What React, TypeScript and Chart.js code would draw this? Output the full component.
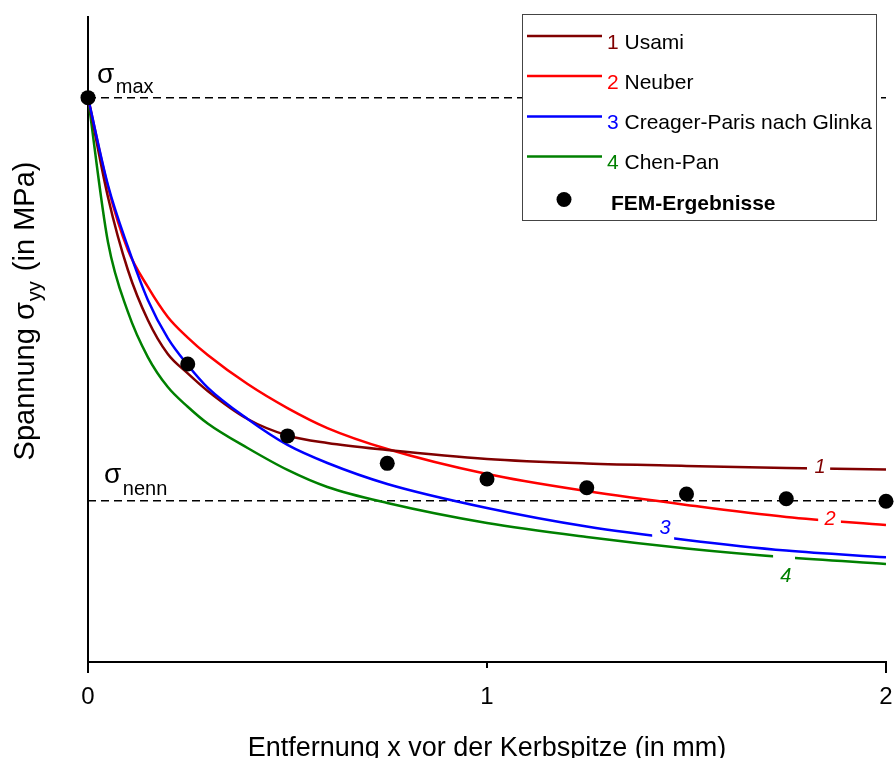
import React, { useEffect, useRef } from "react";
import { Chart, registerables } from "chart.js";

Chart.register(...registerables);

const FONT = '"Liberation Sans", Arial, sans-serif';

// ---- data (stress values in arbitrary MPa units, sigma_nenn = 100) ----
const xValues = [0, 0.05, 0.1, 0.15, 0.2, 0.25, 0.3, 0.4, 0.5, 0.6, 0.75, 1.0, 1.25, 1.5, 1.75, 2.0];
const usami = [350, 288.4, 243.1, 212.1, 191.0, 179.0, 168.1, 150.7, 140.5, 135.8, 131.5, 125.9, 123.1, 121.6, 120.3, 119.4];
const neuber = [350, 294.6, 255.5, 232.6, 214.0, 201.2, 190.4, 172.4, 157.5, 145.1, 132.1, 116.6, 106.0, 97.4, 89.9, 85.0];
const creagerParis = [350, 295.8, 257.4, 224.5, 200.9, 184.2, 170.2, 150.7, 134.6, 123.4, 110.4, 95.5, 84.0, 75.7, 69.1, 64.9];
const chenPan = [350, 260.5, 217.1, 189.1, 170.5, 158.3, 147.9, 132.7, 119.1, 108.5, 98.6, 86.2, 77.5, 70.4, 64.9, 60.8];

const femX = [0, 0.25, 0.5, 0.75, 1.0, 1.25, 1.5, 1.75, 2.0];
const femY = [350, 184.8, 140.2, 123.2, 113.5, 108.1, 104.2, 101.2, 99.7];

const sigmaMax = 350;
const sigmaNenn = 100;

const xTicks = [0, 1, 2];
const xTickLabels = ["0", "1", "2"];

const seriesNumbers = ["1", "2", "3", "4"];
const seriesNames = ["Usami", "Neuber", "Creager-Paris nach Glinka", "Chen-Pan"];
const femName = "FEM-Ergebnisse";
const xTitle = "Entfernung x vor der Kerbspitze (in mm)";
const yTitleMain = "Spannung σ";
const yTitleSub = "yy";
const yTitleEnd = " (in MPa)";

// curve number annotations (data coords) and gaps in the curves around them
const curveLabelX = [1.835, 1.86, 1.446, 1.749];
const curveLabelY = [120.9, 88.7, 83.1, 53.3];
const gapStart = [1.802, 1.83, 1.414, 1.717];
const gapEnd = [1.86, 1.887, 1.469, 1.772];

const seriesColors = ["#800000", "#ff0000", "#0000ff", "#008000"];
const seriesValues = [usami, neuber, creagerParis, chenPan];
const seriesOrder = [2, 3, 1, 4];

const decorPlugin = {
  id: "decor",
  beforeDatasetDraw(chart: any, args: any) {
    const ds = chart.data.datasets[args.index];
    const gi = ds.gapIndex;
    if (gi === undefined) return;
    const xs = chart.scales.x;
    const x1 = xs.getPixelForValue(gapStart[gi]);
    const x2 = xs.getPixelForValue(gapEnd[gi]);
    const ctx = chart.ctx;
    ctx.save();
    ctx.beginPath();
    ctx.rect(0, 0, chart.width, chart.height);
    ctx.rect(x1, 0, x2 - x1, chart.height);
    ctx.clip("evenodd");
  },
  afterDatasetDraw(chart: any, args: any) {
    const ds = chart.data.datasets[args.index];
    if (ds.gapIndex === undefined) return;
    chart.ctx.restore();
  },
  afterDraw(chart: any) {
    const ctx = chart.ctx;
    const xs = chart.scales.x;
    const ys = chart.scales.y;
    const area = chart.chartArea;
    ctx.save();

    // curve number labels
    ctx.font = `italic 20px ${FONT}`;
    ctx.textAlign = "center";
    ctx.textBaseline = "middle";
    for (let i = 0; i < 4; i++) {
      ctx.fillStyle = seriesColors[i];
      ctx.fillText(seriesNumbers[i], xs.getPixelForValue(curveLabelX[i]), ys.getPixelForValue(curveLabelY[i]));
    }

    // tick marks
    ctx.strokeStyle = "#000";
    ctx.lineWidth = 2;
    xTicks.forEach((v, i) => {
      const px = Math.round(xs.getPixelForValue(v));
      const len = i === 1 ? 6 : 11;
      ctx.beginPath();
      ctx.moveTo(px, area.bottom);
      ctx.lineTo(px, area.bottom + len);
      ctx.stroke();
    });

    // tick labels
    ctx.fillStyle = "#000";
    ctx.font = `24px ${FONT}`;
    ctx.textAlign = "center";
    ctx.textBaseline = "alphabetic";
    xTicks.forEach((v, i) => {
      ctx.fillText(xTickLabels[i], xs.getPixelForValue(v), area.bottom + 42);
    });

    // x title
    ctx.font = `27px ${FONT}`;
    ctx.fillText(xTitle, (area.left + area.right) / 2, 756);

    // y title with subscript
    ctx.save();
    ctx.translate(34, 311);
    ctx.rotate(-Math.PI / 2);
    ctx.textAlign = "left";
    const fMain = `29px ${FONT}`;
    const fSub = `20px ${FONT}`;
    ctx.font = fMain;
    const w1 = ctx.measureText(yTitleMain).width;
    const w3 = ctx.measureText(yTitleEnd).width;
    ctx.font = fSub;
    const w2 = ctx.measureText(yTitleSub).width;
    const x0 = -(w1 + w2 + w3 + 3) / 2;
    ctx.font = fMain;
    ctx.fillText(yTitleMain, x0, 0);
    ctx.font = fSub;
    ctx.fillText(yTitleSub, x0 + w1 + 1, 7);
    ctx.font = fMain;
    ctx.fillText(yTitleEnd, x0 + w1 + w2 + 3, 0);
    ctx.restore();

    // sigma labels
    const drawSigma = (x: number, yBase: number, sub: string, subDy: number) => {
      ctx.textAlign = "left";
      ctx.font = `28px ${FONT}`;
      ctx.fillStyle = "#000";
      ctx.fillText("σ", x, yBase);
      const w = ctx.measureText("σ").width;
      ctx.font = `20px ${FONT}`;
      ctx.fillText(sub, x + w + 1.5, yBase + subDy);
    };
    drawSigma(area.left + 9, ys.getPixelForValue(sigmaMax) - 15, "max", 10);
    drawSigma(area.left + 16, ys.getPixelForValue(sigmaNenn) - 18, "nenn", 12);

    // legend
    const lx = 522.5, ly = 14.5, lw = 354, lh = 206;
    ctx.fillStyle = "#fff";
    ctx.fillRect(lx, ly, lw, lh);
    ctx.strokeStyle = "#444";
    ctx.lineWidth = 1;
    ctx.strokeRect(lx, ly, lw, lh);
    const baselines = [48.5, 88.5, 129, 169, 209.5];
    for (let i = 0; i < 4; i++) {
      const b = baselines[i];
      ctx.strokeStyle = seriesColors[i];
      ctx.lineWidth = 2.5;
      ctx.beginPath();
      ctx.moveTo(527, b - 12.5);
      ctx.lineTo(602, b - 12.5);
      ctx.stroke();
      ctx.font = `21px ${FONT}`;
      ctx.textAlign = "left";
      ctx.fillStyle = seriesColors[i];
      const num = seriesNumbers[i] + " ";
      ctx.fillText(num, 607, b);
      const nw = ctx.measureText(num).width;
      ctx.fillStyle = "#000";
      ctx.fillText(seriesNames[i], 607 + nw, b);
    }
    ctx.fillStyle = "#000";
    ctx.beginPath();
    ctx.arc(564, 199.5, 7.5, 0, Math.PI * 2);
    ctx.fill();
    ctx.font = `bold 21px ${FONT}`;
    ctx.fillText(femName, 611, baselines[4]);

    ctx.restore();
  },
};

export default function App() {
  const canvasRef = useRef<HTMLCanvasElement | null>(null);

  useEffect(() => {
    const canvas = canvasRef.current;
    if (!canvas) return;
    Chart.defaults.font.family = FONT;

    const lineSets = seriesValues.map((vals, i) => ({
      type: "line" as const,
      label: seriesNames[i],
      data: xValues.map((x, j) => ({ x, y: vals[j] })),
      borderColor: seriesColors[i],
      backgroundColor: seriesColors[i],
      borderWidth: 2.5,
      pointRadius: 0,
      fill: false,
      tension: 0,
      cubicInterpolationMode: "monotone" as const,
      order: seriesOrder[i],
      gapIndex: i,
    }));

    const dashed = [sigmaMax, sigmaNenn].map((v, i) => ({
      type: "line" as const,
      label: i === 0 ? "sigma_max" : "sigma_nenn",
      data: [
        { x: xTicks[0], y: v },
        { x: xTicks[xTicks.length - 1], y: v },
      ],
      borderColor: "#000",
      borderWidth: 1.5,
      borderDash: [8, 5],
      pointRadius: 0,
      fill: false,
      order: 10,
    }));

    const fem = {
      type: "line" as const,
      label: femName,
      data: femX.map((x, j) => ({ x, y: femY[j] })),
      showLine: false,
      pointRadius: 7.5,
      pointHoverRadius: 7.5,
      pointBackgroundColor: "#000",
      pointBorderWidth: 0,
      borderColor: "#000",
      clip: false as any,
      order: 0,
    };

    const chart = new Chart(canvas, {
      type: "line",
      data: { datasets: [...lineSets, ...dashed, fem] as any },
      options: {
        responsive: false,
        animation: false,
        devicePixelRatio: 1,
        layout: { padding: { left: 0, top: 17, right: 8, bottom: 0 } },
        plugins: { legend: { display: false }, tooltip: { enabled: false } },
        events: [],
        scales: {
          x: {
            type: "linear",
            min: 0,
            max: 2,
            ticks: { display: false },
            grid: { display: false, drawTicks: false },
            border: { display: true, color: "#000", width: 2 },
            afterFit: (s: any) => {
              s.height = 96;
            },
          },
          y: {
            type: "linear",
            min: 0,
            max: 400,
            ticks: { display: false },
            grid: { display: false, drawTicks: false },
            border: { display: true, color: "#000", width: 2 },
            afterFit: (s: any) => {
              s.width = 88;
            },
          },
        },
      } as any,
      plugins: [decorPlugin],
    });
    return () => chart.destroy();
  }, []);

  return (
    <div style={{ position: "absolute", left: 0, top: 0, width: 894, height: 758, background: "#fff", overflow: "hidden" }}>
      <canvas ref={canvasRef} width={894} height={758} style={{ display: "block" }} />
    </div>
  );
}
